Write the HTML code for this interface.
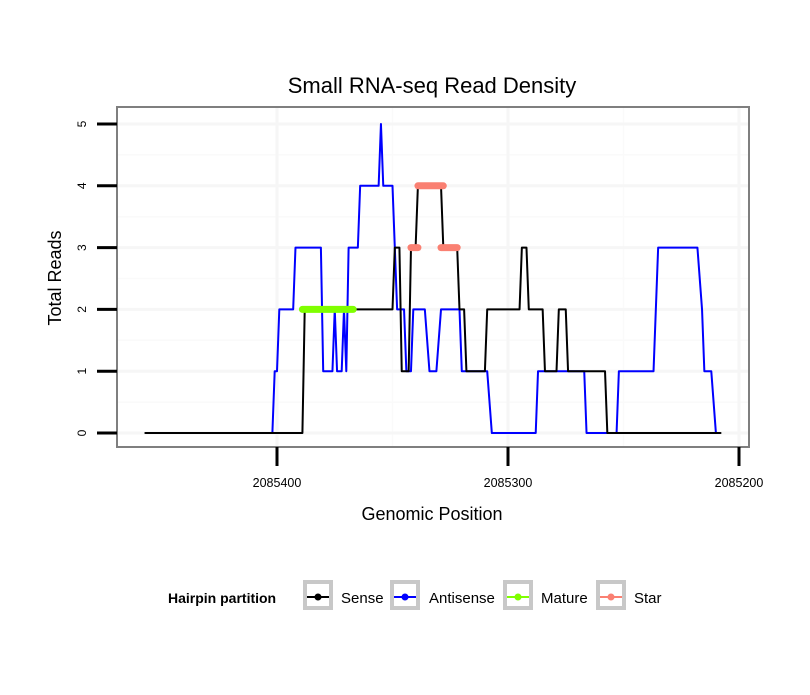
<!DOCTYPE html>
<html><head><meta charset="utf-8"><style>
body{margin:0;background:#fff;font-family:"Liberation Sans",sans-serif}
svg text{font-family:"Liberation Sans",sans-serif}
</style></head><body>
<svg id="chart" width="810" height="690" xmlns="http://www.w3.org/2000/svg">
<rect width="810" height="690" fill="#fff"/>
<text x="432" y="93" font-size="22" text-anchor="middle">Small RNA-seq Read Density</text>
<g id="grid"></g>
<g id="series"></g>
<rect x="117" y="107" width="632" height="340" fill="none" stroke="#7f7f7f" stroke-width="2"/>
<g id="axes"></g>
<text x="432" y="520" font-size="18" text-anchor="middle">Genomic Position</text>
<text transform="translate(61,278) rotate(-90)" font-size="18" text-anchor="middle">Total Reads</text>
<g>
<text x="168" y="603" font-size="14" font-weight="bold">Hairpin partition</text>
<g><rect x="305" y="582" width="26" height="26" fill="#fff" stroke="#c8c8c8" stroke-width="4"/><line x1="307" y1="597" x2="329" y2="597" stroke="#000" stroke-width="2"/><circle cx="318" cy="597" r="3.5" fill="#000"/><text x="341" y="603" font-size="15">Sense</text></g>
<g><rect x="392" y="582" width="26" height="26" fill="#fff" stroke="#c8c8c8" stroke-width="4"/><line x1="394" y1="597" x2="416" y2="597" stroke="#00f" stroke-width="2"/><circle cx="405" cy="597" r="3.5" fill="#00f"/><text x="429" y="603" font-size="15">Antisense</text></g>
<g><rect x="505" y="582" width="26" height="26" fill="#fff" stroke="#c8c8c8" stroke-width="4"/><line x1="507" y1="597" x2="529" y2="597" stroke="#7fff00" stroke-width="2"/><circle cx="518" cy="597" r="3.5" fill="#7fff00"/><text x="541" y="603" font-size="15">Mature</text></g>
<g><rect x="598" y="582" width="26" height="26" fill="#fff" stroke="#c8c8c8" stroke-width="4"/><line x1="600" y1="597" x2="622" y2="597" stroke="#fa8072" stroke-width="2"/><circle cx="611" cy="597" r="3.5" fill="#fa8072"/><text x="634" y="603" font-size="15">Star</text></g>
</g>
</svg>
<script>
const xTicks=[2085400,2085300,2085200];
const yTicks=[0,1,2,3,4,5];
const sensePos=[2085457,2085389,2085388,2085350,2085349,2085347,2085346,2085343,2085342,2085340,2085339,2085329,2085328,2085322,2085321,2085319,2085318,2085310,2085309,2085295,2085294,2085292,2085291,2085285,2085284,2085279,2085278,2085275,2085274,2085258,2085257,2085208];
const senseVal=[0,0,2,2,3,3,1,1,3,3,4,4,3,3,2,2,1,1,2,2,3,3,2,2,1,1,2,2,1,1,0,0];
const antiPos=[2085402,2085401,2085400,2085399,2085393,2085392,2085381,2085380,2085376,2085375,2085374,2085372,2085371,2085370,2085369,2085365,2085364,2085356,2085355,2085354,2085350,2085348,2085345,2085344,2085342,2085341,2085336,2085334,2085331,2085329,2085321,2085320,2085309,2085307,2085288,2085287,2085267,2085266,2085253,2085252,2085237,2085235,2085218,2085216,2085215,2085212,2085210];
const antiVal=[0,1,1,2,2,3,3,1,1,2,1,1,2,1,3,3,4,4,5,4,4,2,2,1,1,2,2,1,1,2,2,1,1,0,0,1,1,0,0,1,1,3,3,2,1,1,0];
const maturePos=[2085389,2085367];
const matureVal=[2,2];
const starSegStart=[2085342,2085339,2085329];
const starSegEnd=[2085339,2085328,2085322];
const starVal=[3,4,3];

const NS="http://www.w3.org/2000/svg";
function X(p){return 277+(2085400-p)*2.31;}
function Y(v){return 433-v*61.8;}
function mk(tag,attrs,parent){const e=document.createElementNS(NS,tag);for(const k in attrs)e.setAttribute(k,attrs[k]);parent.appendChild(e);return e;}
const grid=document.getElementById('grid'),axes=document.getElementById('axes'),ser=document.getElementById('series');
for(let i=0;i<yTicks.length-1;i++){const v=(yTicks[i]+yTicks[i+1])/2;const l=mk('line',{x1:117,x2:749,y1:Y(v),y2:Y(v),stroke:'#fafafa','stroke-width':1.5},grid);

}
for(let i=0;i<xTicks.length-1;i++){const p=(xTicks[i]+xTicks[i+1])/2;const l=mk('line',{x1:X(p),x2:X(p),y1:107,y2:447,stroke:'#fafafa','stroke-width':1.5},grid);

}
yTicks.forEach(v=>{const l=mk('line',{x1:117,x2:749,y1:Y(v),y2:Y(v),stroke:'#f6f6f6','stroke-width':3},grid);


const t=mk('line',{x1:97,x2:117,y1:Y(v),y2:Y(v),stroke:'#000','stroke-width':3},axes);


const tx=mk('text',{transform:`translate(86,${Y(v)}) rotate(-90)`,'font-size':12,'text-anchor':'middle'},axes);tx.textContent=v;

});
xTicks.forEach(p=>{const l=mk('line',{x1:X(p),x2:X(p),y1:107,y2:447,stroke:'#f6f6f6','stroke-width':3},grid);


const t=mk('line',{x1:X(p),x2:X(p),y1:447,y2:466,stroke:'#000','stroke-width':3},axes);


const tx=mk('text',{x:X(p),y:487,'font-size':12.5,'text-anchor':'middle'},axes);tx.textContent=p;

});
function poly(pos,val,color,w,name){const pts=pos.map((p,i)=>X(p)+','+Y(val[i])).join(' ');const e=mk('polyline',{points:pts,fill:'none',stroke:color,'stroke-width':w,'stroke-linejoin':'round','stroke-linecap':'round'},ser);

}
poly(antiPos,antiVal,'#0000ff',2,'antisense-line');
poly(sensePos,senseVal,'#000000',2,'sense-line');
poly(maturePos,matureVal,'#7fff00',7,'mature-segment');
starVal.forEach((v,i)=>{const e=mk('line',{x1:X(starSegStart[i]),x2:X(starSegEnd[i]),y1:Y(v),y2:Y(v),stroke:'#fa8072','stroke-width':7,'stroke-linecap':'round'},ser);

});
</script>
</body></html>
